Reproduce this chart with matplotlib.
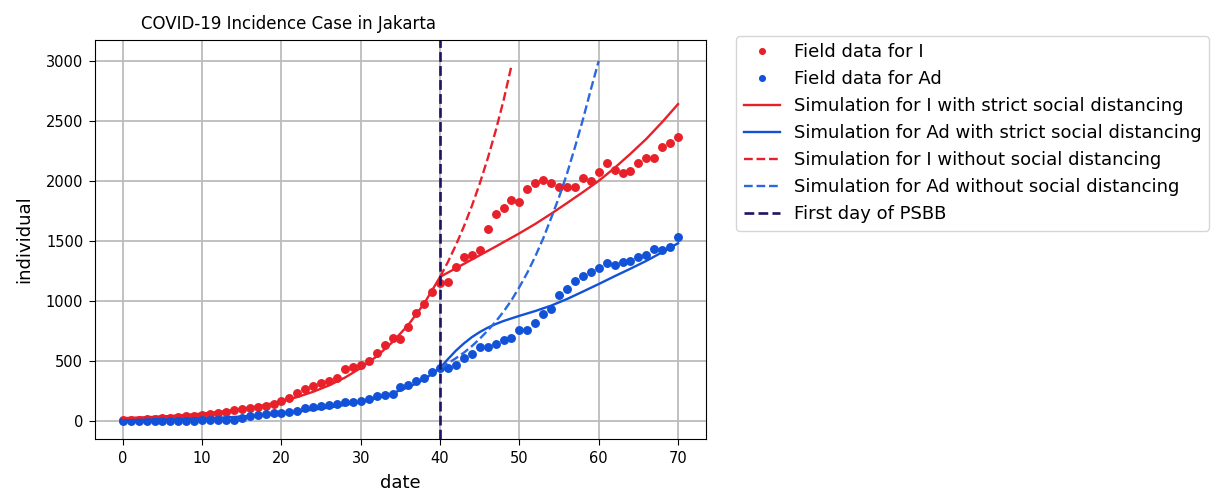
import numpy as np
import matplotlib
matplotlib.use("Agg")
import matplotlib.pyplot as plt

# observed daily cases
days = list(range(71))
field_I = [4, 6, 9, 12, 16, 20, 25, 30, 36, 42,
           49, 56, 64, 74, 86, 95, 104, 119, 126, 137,
           165, 190, 230, 266, 289, 316, 332, 357, 435, 449,
           465, 499, 564, 629, 691, 684, 786, 895, 977, 1072,
           1150, 1153, 1278, 1369, 1383, 1425, 1600, 1725, 1772, 1842,
           1822, 1933, 1986, 2008, 1986, 1947, 1950, 1947, 2022, 2000,
           2072, 2153, 2092, 2064, 2083, 2147, 2194, 2194, 2280, 2314,
           2364]
field_Ad = [0, 0, 0, 0, 0, 1, 1, 1, 2, 2,
            3, 3, 4, 5, 6, 22, 40, 50, 60, 64,
            68, 76, 85, 110, 114, 120, 133, 142, 153, 155,
            169, 183, 203, 211, 225, 281, 300, 328, 356, 405,
            439, 439, 467, 522, 558, 615, 619, 642, 672, 692,
            753, 753, 814, 890, 935, 1047, 1100, 1168, 1203, 1239,
            1272, 1314, 1300, 1327, 1328, 1369, 1380, 1432, 1425, 1447,
            1536]

# model output with strict social distancing
sim_days = [0, 2, 4, 6, 8, 10, 12, 14, 16, 18, 20, 22, 24, 26, 28, 30, 32, 34, 36, 38,
            40, 41, 42, 43, 44, 45, 46, 47, 48, 50, 52, 54, 56, 58, 60, 62, 64, 66, 68, 70]
sim_I_strict = [22, 27, 33, 40, 49, 60, 73, 89, 109, 133, 162, 198, 242, 295, 360, 440,
                537, 656, 800, 978, 1200, 1236, 1272, 1308, 1344, 1380, 1416, 1452, 1489,
                1563, 1641, 1726, 1815, 1906, 2000, 2108, 2226, 2350, 2490, 2640]
sim_Ad_strict = [2, 4, 7, 10, 14, 19, 25, 32, 40, 50, 62, 76, 92, 110, 132, 158,
                 190, 230, 280, 345, 440, 515, 585, 645, 697, 740, 776, 806, 832,
                 875, 915, 960, 1015, 1077, 1140, 1205, 1268, 1333, 1405, 1480]

# model output without social distancing (from day 40)
free_days_I = [40, 41, 42, 43, 44, 45, 46, 47, 48, 49]
sim_I_free = [1200, 1326, 1466, 1620, 1790, 1978, 2186, 2416, 2670, 2960]
free_days_Ad = [40, 41, 42, 43, 44, 45, 46, 47, 48, 49, 50,
                51, 52, 53, 54, 55, 56, 57, 58, 59, 60]
sim_Ad_free = [440, 480, 522, 568, 622, 684, 752, 826, 910, 1005, 1115,
               1235, 1370, 1520, 1690, 1865, 2060, 2280, 2510, 2760, 3000]

psbb_day = 40

RED = "#e8202a"
BLUE = "#1152d8"
BLUE_DASH = "#2a68e2"
NAVY = "#1c1464"

fig = plt.figure(figsize=(12.19, 4.93), dpi=100)
ax = fig.add_axes([0.078, 0.1095, 0.501, 0.8095])

ax.plot(days, field_I, "o", color=RED, ms=5.4, label="Field data for I")
ax.plot(days, field_Ad, "o", color=BLUE, ms=5.4, label="Field data for Ad")
ax.plot(sim_days, sim_I_strict, "-", color=RED, lw=1.7,
        label="Simulation for I with strict social distancing")
ax.plot(sim_days, sim_Ad_strict, "-", color=BLUE, lw=1.7,
        label="Simulation for Ad with strict social distancing")
ax.plot(free_days_I, sim_I_free, "--", color=RED, lw=1.7,
        label="Simulation for I without social distancing")
ax.plot(free_days_Ad, sim_Ad_free, "--", color=BLUE_DASH, lw=1.7,
        label="Simulation for Ad without social distancing")
ax.axvline(psbb_day, color=NAVY, ls="--", lw=1.9, label="First day of PSBB")

ax.set_xlim(-3.5, 73.5)
ax.set_ylim(-152, 3175)
ax.set_xticks(range(0, 71, 10))
ax.set_yticks(range(0, 3001, 500))
ax.tick_params(labelsize=10.5, length=4.5, pad=4)
ax.grid(True, color="#bcbcbc", lw=1.3)
ax.set_axisbelow(True)
ax.set_xlabel("date", fontsize=13, labelpad=6)
ax.set_ylabel("individual", fontsize=13, labelpad=9)
ax.set_title("COVID-19 Incidence Case in Jakarta", fontsize=12, x=0.3175, pad=8)

ax.legend(loc="upper left", bbox_to_anchor=(1.05, 1.01), fontsize=13,
          markerscale=0.75, borderaxespad=0)

fig.savefig("out.png", dpi=100)
